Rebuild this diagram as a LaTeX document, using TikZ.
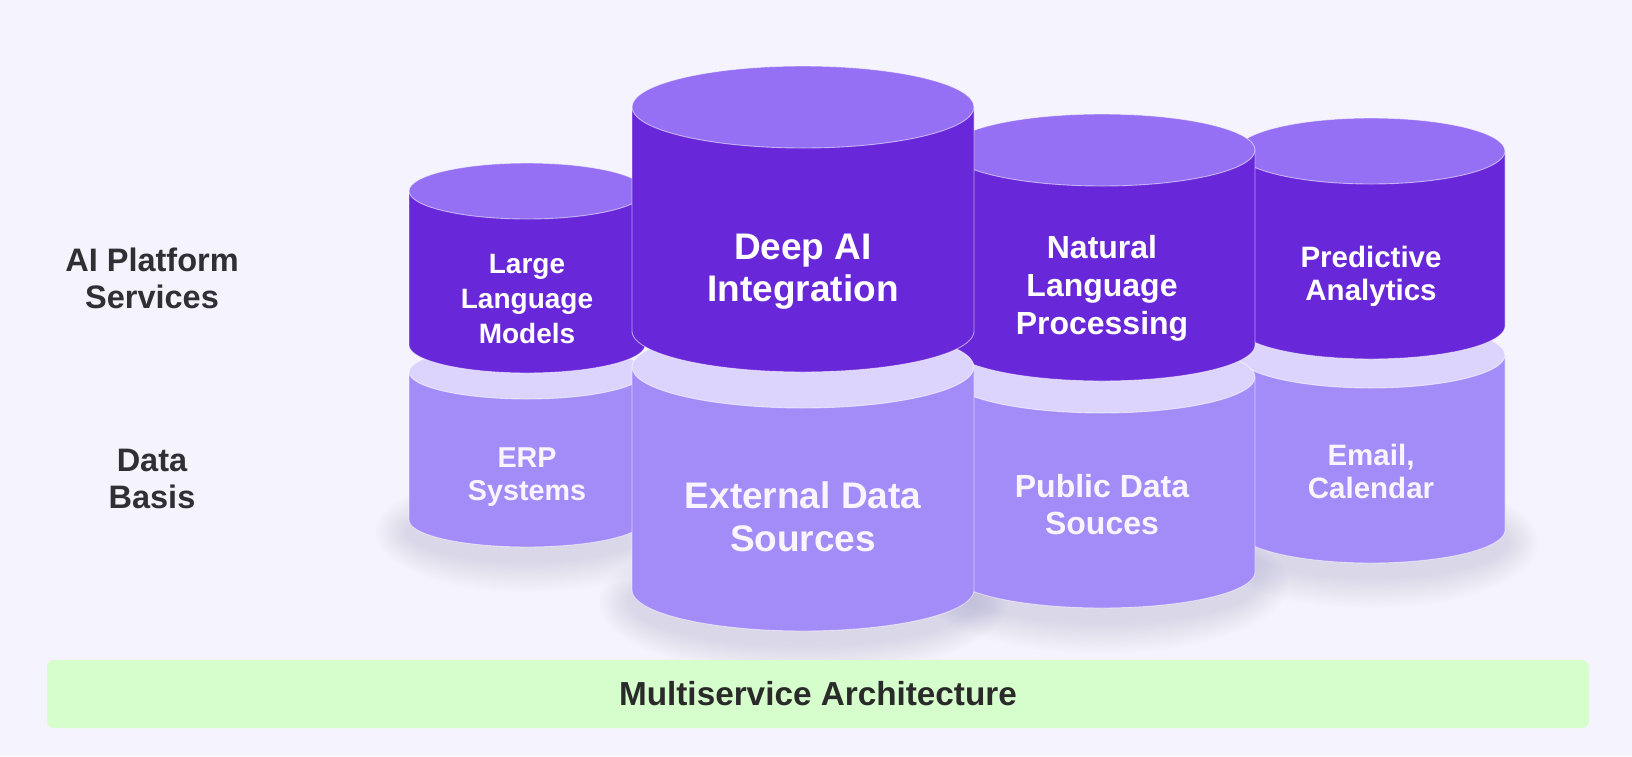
\documentclass[tikz,border=0pt]{standalone}
\usepackage{fontspec}
\setmainfont{Liberation Sans}
\definecolor{bg}{HTML}{F5F4FE}
\definecolor{topc}{HTML}{9570F4}
\definecolor{darkc}{HTML}{6827D9}
\definecolor{lowside}{HTML}{A48CF8}
\definecolor{band}{HTML}{DCD4FD}
\definecolor{lowtxt}{HTML}{F8F5FF}
\definecolor{lbltxt}{HTML}{2F2F34}
\definecolor{barfill}{HTML}{D6FDCC}
\definecolor{bartxt}{HTML}{2A2A2A}
\definecolor{shadowc}{HTML}{A29DC4}
\tikzset{
  every node/.style={inner sep=0pt, outer sep=0pt},
  uptext/.style={text=white, align=center},
  lowtext/.style={text=lowtxt, align=center},
  lbl/.style={text=lbltxt, align=center, font=\bfseries\fontsize{32.5}{37}\selectfont},
  bar/.style={fill=barfill, rounded corners=7pt, minimum width=1542pt, minimum height=68pt,
    text=bartxt, text height=23.8pt, text depth=0pt, font=\bfseries\fontsize{33.3}{40}\selectfont},
  edge/.style={draw=white, draw opacity=0.55, line width=0.9pt}
}
% cx, rx, ytop, ybot, ry, side colour, top colour
\newcommand\cylpart[7]{%
  \fill[#6] (#1-#2,#3) -- (#1-#2,#4) -- plot[domain=180:0,samples=80] ({#1+#2*cos(\x)},{#4+#5*sin(\x)}) -- (#1+#2,#3) -- cycle;
  \draw[edge] (#1-#2,#3) -- (#1-#2,#4) -- plot[domain=180:0,samples=80] ({#1+#2*cos(\x)},{#4+#5*sin(\x)}) -- (#1+#2,#3);
  \fill[#7] (#1,#3) ellipse [x radius=#2pt, y radius=#5pt];
  \draw[edge] (#1,#3) ellipse [x radius=#2pt, y radius=#5pt];
}
% cx, y, rx, ry
\newcommand\softshadow[4]{%
  \foreach \k in {1,...,14}{
    \fill[shadowc, opacity=0.024] (#1,#2+12) ellipse [x radius={(#3+2.4*\k)*1pt}, y radius={(#4+2.4*\k)*1pt}];
  }
}
\begin{document}
\begin{tikzpicture}[x=1pt, y=-1pt]
\useasboundingbox (0,0) rectangle (1632,756);
\fill[bg] (0,0) rectangle (1632,756);

% shadows
\softshadow{527}{520}{118}{27}
\softshadow{803}{590}{171}{41}
\softshadow{1102}{572}{153}{36}
\softshadow{1371}{530}{134}{33}

% column 4: Predictive Analytics / Email
\cylpart{1371}{134}{355}{530}{33}{lowside}{band}
\cylpart{1371}{134}{151}{326}{33}{darkc}{topc}
% column 3: NLP / Public Data
\cylpart{1102}{153}{377}{572}{36}{lowside}{band}
\cylpart{1102}{153}{150}{345}{36}{darkc}{topc}
% column 1: LLM / ERP
\cylpart{527}{118}{372}{520}{27}{lowside}{band}
\cylpart{527}{118}{191}{345}{28}{darkc}{topc}
% column 2: Deep AI / External
\cylpart{803}{171}{367}{590}{41}{lowside}{band}
\cylpart{803}{171}{107}{331}{41}{darkc}{topc}

% texts
\node[uptext, font=\bfseries\fontsize{28}{35}\selectfont] (llm) at (527,301) {\strut Large\\\strut Language\\\strut Models};
\node[uptext, font=\bfseries\fontsize{37}{42}\selectfont] (deep) at (803,272) {\strut Deep AI\\\strut Integration};
\node[uptext, font=\bfseries\fontsize{32}{38}\selectfont] (nlp) at (1102,289) {\strut Natural\\\strut Language\\\strut Processing};
\node[uptext, font=\bfseries\fontsize{29.5}{33}\selectfont] (pa) at (1371,277.5) {\strut Predictive\\\strut Analytics};

\node[lowtext, font=\bfseries\fontsize{28.7}{33}\selectfont] (erp) at (527,477) {\strut ERP\\\strut Systems};
\node[lowtext, font=\bfseries\fontsize{37}{43}\selectfont] (ext) at (803,521.6) {\strut External Data\\\strut Sources};
\node[lowtext, font=\bfseries\fontsize{32}{37}\selectfont] (pub) at (1102,509) {\strut Public Data\\\strut Souces};
\node[lowtext, font=\bfseries\fontsize{29.5}{33}\selectfont] (mail) at (1371,475.5) {\strut Email,\\\strut Calendar};

\node[lbl] (ai) at (152,282.7) {\strut AI Platform\\\strut Services};
\node[lbl] (data) at (152,482.7) {\strut Data\\\strut Basis};

\node[bar] (multi) at (818,694) {Multiservice Architecture};
\end{tikzpicture}
\end{document}
